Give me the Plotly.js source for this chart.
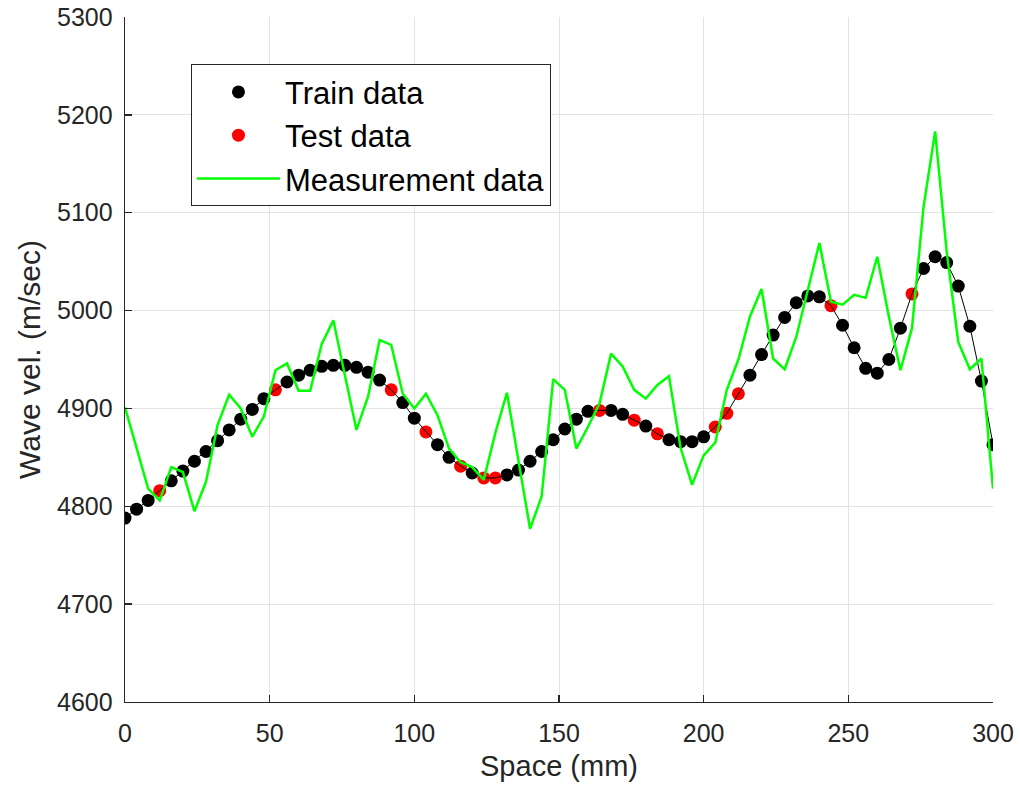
<!DOCTYPE html>
<html>
<head>
<meta charset="utf-8">
<script src="https://cdn.plot.ly/plotly-3.0.1.min.js"></script>
<style>
  html, body { margin: 0; padding: 0; background: #ffffff; }
  #chart { width: 1020px; height: 787px; }
</style>
</head>
<body>
<div id="chart"></div>
<script>
// Training samples: position along the specimen (mm) and wave velocity (m/s)
const trainSpace = [0, 4, 8, 16, 20, 24, 28, 32, 36, 40, 44, 48, 56, 60, 64, 68, 72, 76, 80, 84, 88,
  96, 100, 108, 112, 120, 132, 136, 140, 144, 148, 152, 156, 160, 168, 172, 180, 188, 192, 196, 200,
  216, 220, 224, 228, 232, 236, 240, 248, 252, 256, 260, 264, 268, 276, 280, 284, 288, 292, 296, 300];
const trainVel = [4788, 4797, 4806, 4826, 4836, 4846, 4856, 4867, 4878, 4889, 4899, 4910, 4927, 4934, 4939, 4943, 4944, 4944, 4942, 4937, 4929,
  4906, 4890, 4863, 4850, 4834, 4832, 4837, 4846, 4856, 4868, 4879, 4889, 4897, 4898, 4894, 4882, 4868, 4866, 4866, 4871,
  4934, 4955, 4975, 4993, 5008, 5015, 5014, 4985, 4962, 4941, 4936, 4950, 4982, 5043, 5055, 5049, 5025, 4984, 4928, 4863];

// Held-out test samples
const testSpace = [12, 52, 92, 104, 116, 124, 128, 164, 176, 184, 204, 208, 212, 244, 272];
const testVel = [4816, 4919, 4919, 4876, 4841, 4829, 4829, 4898, 4888, 4874, 4881, 4895, 4915, 5005, 5017];

// Raw measurement profile
const measSpace = [0, 4, 8, 12, 16, 20, 24, 28, 32, 36, 40, 44, 48, 52, 56, 60, 64, 68, 72, 76, 80, 84, 88, 92, 96, 100,
  104, 108, 112, 116, 120, 124, 128, 132, 136, 140, 144, 148, 152, 156, 160, 164, 168, 172, 176, 180, 184, 188, 192, 196, 200,
  204, 208, 212, 216, 220, 224, 228, 232, 236, 240, 244, 248, 252, 256, 260, 264, 268, 272, 276, 280, 284, 288, 292, 296, 300];
const measVel = [4901, 4860, 4818, 4806, 4840, 4835, 4795, 4825, 4883, 4914, 4900, 4871, 4892, 4939, 4946, 4918, 4918, 4966, 4990, 4934, 4878, 4912, 4970, 4965, 4915, 4900,
  4915, 4893, 4859, 4845, 4840, 4827, 4875, 4916, 4847, 4777, 4810, 4930, 4919, 4859, 4881, 4905, 4956, 4943, 4919, 4910, 4924, 4933, 4860, 4822, 4852,
  4865, 4919, 4950, 4994, 5022, 4951, 4940, 4973, 5021, 5069, 5009, 5006, 5016, 5013, 5055, 4994, 4939, 4982, 5106, 5183, 5060, 4968, 4940, 4951, 4818];

// Axis ticks
const xTicks = [0, 50, 100, 150, 200, 250, 300];
const yTicks = [4600, 4700, 4800, 4900, 5000, 5100, 5200, 5300];

// Fitted curve passes through every train and test sample, in order of position
const allPts = trainSpace.map((s, i) => [s, trainVel[i]])
  .concat(testSpace.map((s, i) => [s, testVel[i]]))
  .sort((a, b) => a[0] - b[0]);
const fitSpace = allPts.map(p => p[0]);
const fitVel = allPts.map(p => p[1]);

const ink = '#262626';
const fontFamily = 'Arial, "Liberation Sans", Helvetica, sans-serif';

const traces = [
  {
    x: trainSpace, y: trainVel, type: 'scatter', mode: 'markers', name: 'Train data',
    marker: { color: '#000000', size: 13 }, legendrank: 1
  },
  {
    x: testSpace, y: testVel, type: 'scatter', mode: 'markers', name: 'Test data',
    marker: { color: '#ff0000', size: 13 }, legendrank: 2
  },
  {
    x: fitSpace, y: fitVel, type: 'scatter', mode: 'lines', name: 'fit',
    line: { color: '#000000', width: 1 }, showlegend: false
  },
  {
    x: measSpace, y: measVel, type: 'scatter', mode: 'lines', name: 'Measurement data',
    line: { color: '#00ff00', width: 2.5 }, legendrank: 3
  }
];

const axisCommon = {
  showline: true, linecolor: ink, linewidth: 1.3,
  ticks: 'inside', ticklen: 7, tickwidth: 1.3, tickcolor: ink,
  showgrid: true, gridcolor: '#e3e3e3', gridwidth: 1,
  zeroline: false, mirror: false,
  tickfont: { family: fontFamily, size: 25, color: ink }
};

const layout = {
  width: 1020, height: 787,
  margin: { l: 125, r: 27, t: 17, b: 85 },
  paper_bgcolor: '#ffffff', plot_bgcolor: '#ffffff',
  font: { family: fontFamily, color: ink },
  xaxis: Object.assign({}, axisCommon, {
    range: [0, 300], tickvals: xTicks, ticktext: xTicks.map(String),
    ticklabelstandoff: 9,
    title: { text: 'Space (mm)', font: { family: fontFamily, size: 29, color: ink }, standoff: 9 }
  }),
  yaxis: Object.assign({}, axisCommon, {
    range: [4600, 5300], tickvals: yTicks, ticktext: yTicks.map(String),
    ticklabelstandoff: 6,
    title: { text: 'Wave vel. (m/sec)', font: { family: fontFamily, size: 30, color: ink }, standoff: 7 }
  }),
  showlegend: true,
  legend: {
    x: 0.076, y: 0.931, xanchor: 'left', yanchor: 'top',
    bgcolor: '#ffffff', bordercolor: ink, borderwidth: 1,
    font: { family: fontFamily, size: 31, color: '#000000' },
    itemwidth: 83, tracegroupgap: 0
  }
};

Plotly.newPlot('chart', traces, layout, { displayModeBar: false, staticPlot: true });
</script>
</body>
</html>
